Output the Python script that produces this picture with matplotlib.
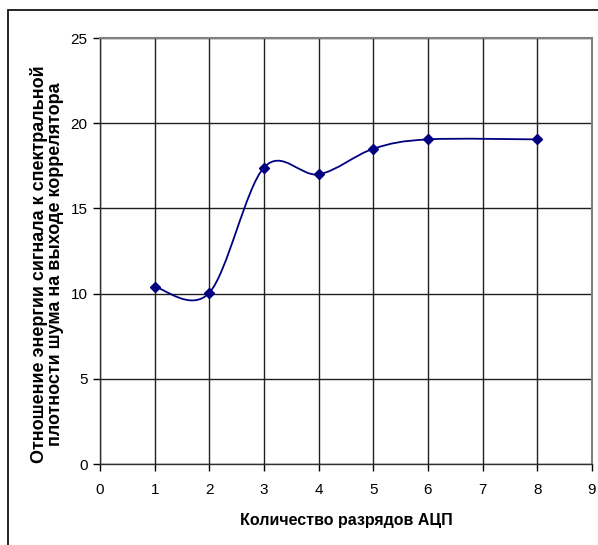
import matplotlib
matplotlib.use("Agg")
import matplotlib.pyplot as plt
from matplotlib.path import Path
from matplotlib.patches import PathPatch, Rectangle

# ===========================
# DATA
# ===========================

bits = [1, 2, 3, 4, 5, 6, 8]
ratio = [10.4, 10.05, 17.4, 17.0, 18.5, 19.05, 19.05]

x_ticks = list(range(0, 10))
y_ticks = [0, 5, 10, 15, 20, 25]

x_label = "Количество разрядов АЦП"
y_label = "Отношение энергии сигнала к спектральной\nплотности шума на выходе коррелятора"

plt.rcParams["font.family"] = ["Liberation Sans", "DejaVu Sans"]

# ===========================
# FIGURE
# ===========================

fig = plt.figure(figsize=(5.98, 5.45), dpi=100)
ax = fig.add_axes([100 / 598, 1 - 464 / 545, 492 / 598, 426 / 545])

# outer chart border (cropped at right / bottom)
fig.patches.append(Rectangle((8 / 598, -0.05), 1.2, 1 - 10 / 545 + 0.05,
                             transform=fig.transFigure, fill=False,
                             edgecolor="black", linewidth=1.2))

# smoothed line like Excel (Catmull-Rom -> cubic Bezier)
pts = list(zip(bits, ratio))
verts = [pts[0]]
codes = [Path.MOVETO]
for i in range(len(pts) - 1):
    p0 = pts[i - 1] if i > 0 else pts[i]
    p1 = pts[i]
    p2 = pts[i + 1]
    p3 = pts[i + 2] if i + 2 < len(pts) else pts[i + 1]
    c1 = (p1[0] + (p2[0] - p0[0]) / 6, p1[1] + (p2[1] - p0[1]) / 6)
    c2 = (p2[0] - (p3[0] - p1[0]) / 6, p2[1] - (p3[1] - p1[1]) / 6)
    verts += [c1, c2, p2]
    codes += [Path.CURVE4] * 3

ax.add_patch(PathPatch(Path(verts, codes), fill=False, edgecolor="#000080",
                       linewidth=1.3, zorder=3))
ax.plot(bits, ratio, linestyle="none", marker="D", markersize=5,
        color="#000080", zorder=4)

ax.set_xlim(0, 9)
ax.set_ylim(0, 25)
ax.set_xticks(x_ticks)
ax.set_yticks(y_ticks)
ax.grid(True, color="#202020", linewidth=1)
ax.set_axisbelow(True)

for side in ["top", "right"]:
    ax.spines[side].set_color("#808080")
    ax.spines[side].set_linewidth(1.5)
for side in ["left", "bottom"]:
    ax.spines[side].set_color("#303030")
    ax.spines[side].set_linewidth(1)

ax.tick_params(direction="out", length=5, width=1, labelsize=11)
ax.tick_params(axis="x", pad=9)
ax.tick_params(axis="y", pad=4)

ax.set_xlabel(x_label, fontsize=11.5, fontweight="bold", labelpad=11)
ax.set_ylabel(y_label, fontsize=13, fontweight="bold", linespacing=0.95)
ax.yaxis.set_label_coords(-36 / 492, 0.47)

fig.savefig("out.png", dpi=100)
